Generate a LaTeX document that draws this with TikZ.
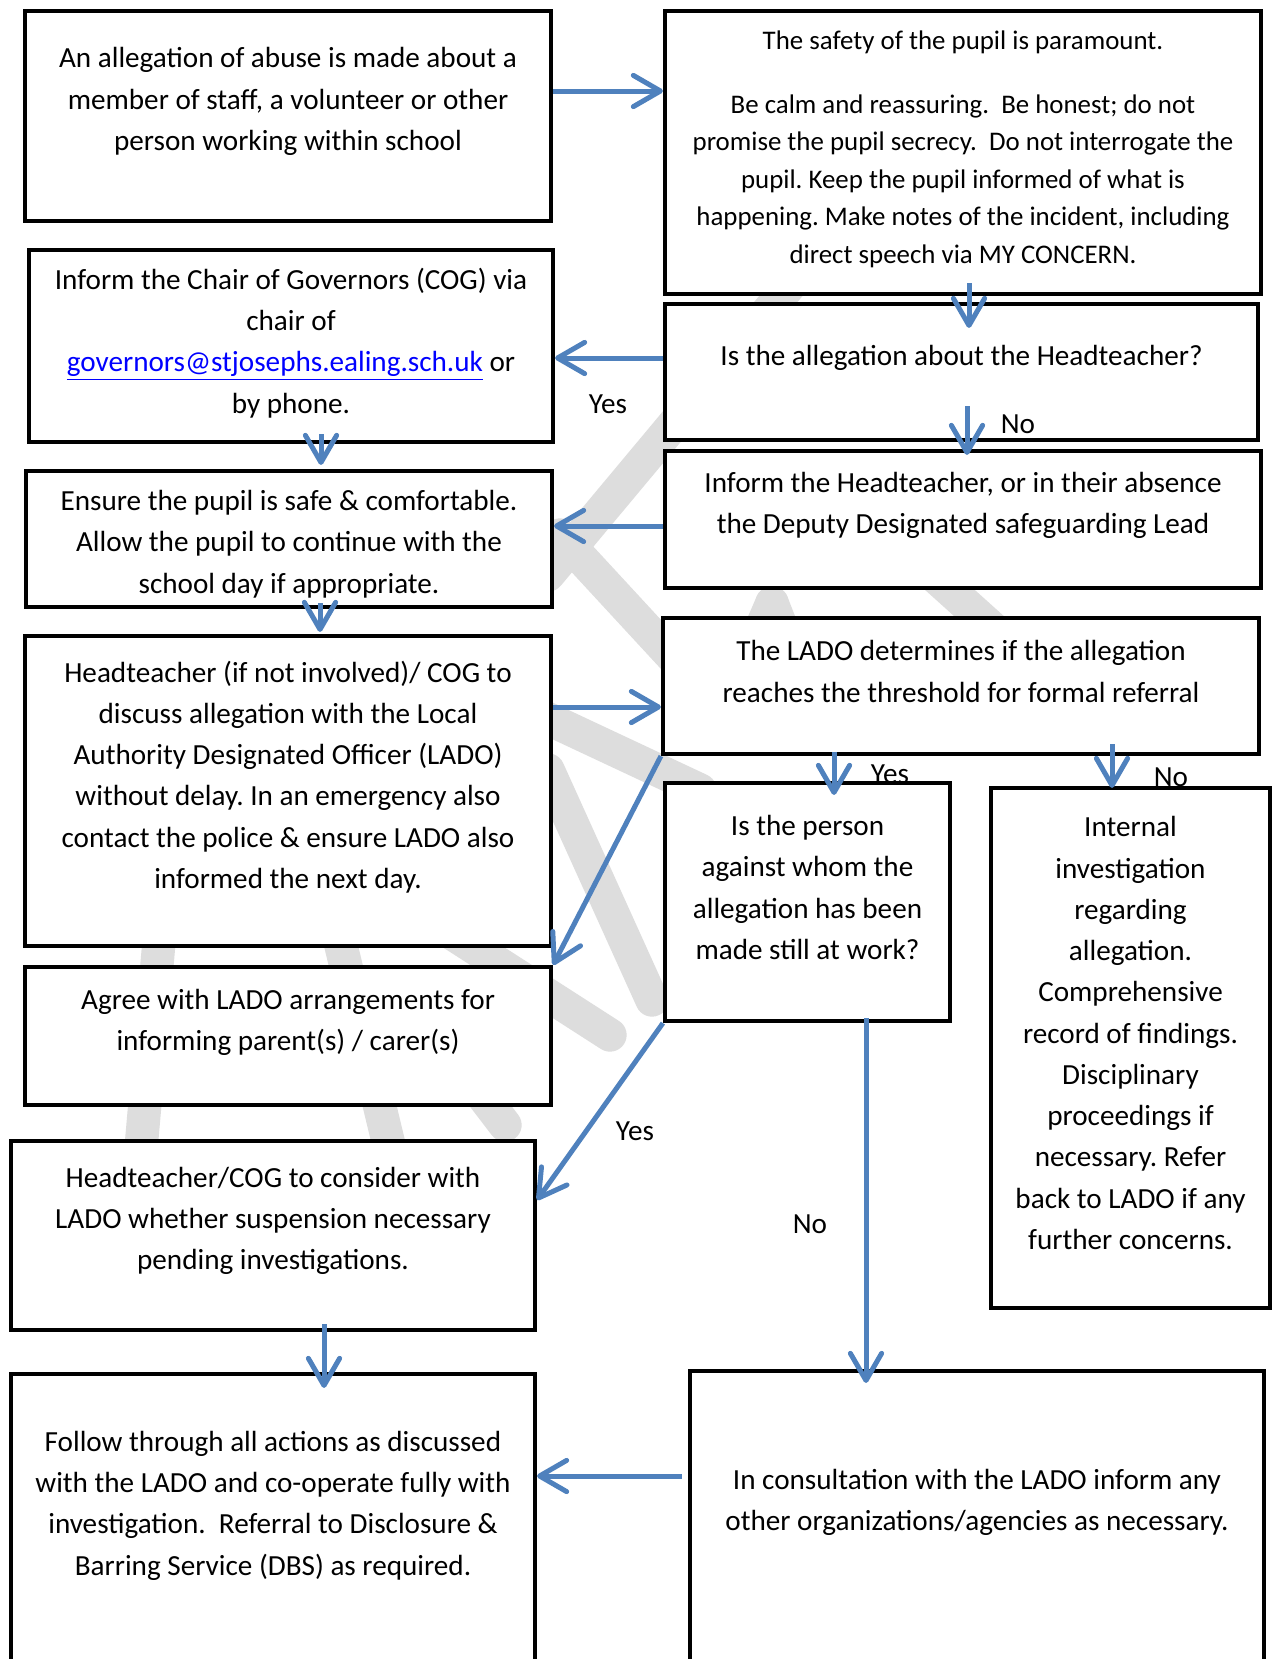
\documentclass[tikz,border=0pt]{standalone}
\usepackage{fontspec}
\setmainfont{Carlito}
\frenchspacing
\usetikzlibrary{arrows.meta,fit,calc}
\definecolor{arrowblue}{HTML}{4F81BD}
\definecolor{wmgray}{HTML}{DDDDDD}
\definecolor{linkblue}{HTML}{0000FF}
\begin{document}
\begin{tikzpicture}[x=0.48pt,y=-0.48pt,
  box/.style={draw=black, line width=2pt, fill=white, inner sep=0pt},
  txt/.style={align=center, inner sep=0pt, font=\fontsize{14}{19.8}\selectfont},
  atxt/.style={align=center, inner sep=0pt, font=\fontsize{14}{19.9}\selectfont},
  btxt/.style={align=center, inner sep=0pt, font=\fontsize{12.9}{18}\selectfont},
  lbl/.style={inner sep=0pt, font=\fontsize{14}{17}\selectfont},
  flow/.style={draw=arrowblue, line width=2.4pt, -{Straight Barb[length=13pt,width=15pt,round]}},
  wm/.style={draw=wmgray, line width=16pt, line cap=round}]
\useasboundingbox (0,0) rectangle (1275,1659);
\clip (0,0) rectangle (1275,1659);
\fill[white] (0,0) rectangle (1275,1659);

% faint watermark
\draw[wm] (790,285) -- (548,575);
\draw[wm] (560,535) -- (740,730);
\draw[wm] (772,603) -- (730,700);
\draw[wm] (772,603) -- (810,700);
\draw[wm] (900,545) -- (1010,644);
\draw[wm] (540,715) -- (700,790);
\draw[wm] (548,770) -- (652,1000);
\draw[wm] (400,900) -- (610,1035);
\draw[wm] (160,930) -- (140,1160);
\draw[wm] (330,900) -- (395,1170);
\draw[wm] (440,1040) -- (505,1125);

% labels partly covered by boxes
\node[lbl] (yesI) at (890,774) {Yes};
\node[lbl] (noJ) at (1171,777) {No};

% boxes
\node[box, fit={(25,11)(551,221)}] (A) {};
\node[box, fit={(665,11)(1261,294)}] (B) {};
\node[box, fit={(29,250)(553,442)}] (C) {};
\node[box, fit={(665,304)(1258,440)}] (D) {};
\node[box, fit={(26,471)(552,607)}] (E) {};
\node[box, fit={(665,451)(1261,588)}] (F) {};
\node[box, fit={(25,636)(551,946)}] (G) {};
\node[box, fit={(663,618)(1259,754)}] (H) {};
\node[box, fit={(665,783)(950,1021)}] (I) {};
\node[box, fit={(991,788)(1270,1308)}] (J) {};
\node[box, fit={(25,967)(551,1105)}] (K) {};
\node[box, fit={(11,1141)(535,1330)}] (L) {};
\node[box, fit={(11,1374)(535,1720)}] (M) {};
\node[box, fit={(690,1371)(1264,1720)}] (N) {};

% texts
\node[atxt] (At) at (288,101.5) {An allegation of abuse is made about a\\ member of staff, a volunteer or other\\ person working within school};
\node[btxt] (Bt) at (963,149) {The safety of the pupil is paramount.\\[12.7pt] Be calm and reassuring.\ \ Be honest; do not\\ promise the pupil secrecy.\ \ Do not interrogate the\\ pupil. Keep the pupil informed of what is\\ happening. Make notes of the incident, including\\ direct speech via MY CONCERN.};
\node[txt] (Ct) at (291,343) {Inform the Chair of Governors (COG) via\\ chair of\\ {\color{linkblue}\underline{governors@stjosephs.ealing.sch.uk}} or\\ by phone.};
\node[txt] (Dt) at (961.5,358) {Is the allegation about the Headteacher?};
\node[txt] (Et) at (289,544) {Ensure the pupil is safe \& comfortable.\\ Allow the pupil to continue with the\\ school day if appropriate.};
\node[txt] (Ft) at (963,505.5) {Inform the Headteacher, or in their absence\\ the Deputy Designated safeguarding Lead};
\node[txt] (Gt) at (288,777) {Headteacher (if not involved)/ COG to\\ discuss allegation with the Local\\ Authority Designated Officer (LADO)\\ without delay. In an emergency also\\ contact the police \& ensure LADO also\\ informed the next day.};
\node[txt] (Ht) at (961,671.5) {The LADO determines if the allegation\\ reaches the threshold for formal referral};
\node[txt] (It) at (807.5,887.5) {Is the person\\ against whom the\\ allegation has been\\ made still at work?};
\node[txt] (Jt) at (1130.5,1033) {Internal\\ investigation\\ regarding\\ allegation.\\ Comprehensive\\ record of findings.\\ Disciplinary\\ proceedings if\\ necessary. Refer\\ back to LADO if any\\ further concerns.};
\node[txt] (Kt) at (288,1022.5) {Agree with LADO arrangements for\\ informing parent(s) / carer(s)};
\node[txt] (Lt) at (273,1221) {Headteacher/COG to consider with\\ LADO whether suspension necessary\\ pending investigations.};
\node[txt] (Mt) at (273,1505.5) {Follow through all actions as discussed\\ with the LADO and co-operate fully with\\ investigation.\ \ Referral to Disclosure \&\\ Barring Service (DBS) as required.};
\node[txt] (Nt) at (977,1502.5) {In consultation with the LADO inform any\\ other organizations/agencies as necessary.};

% connectors
\draw[flow] (A.east |- 0,91) -- (B.west |- 0,91);
\draw[flow] ($(B.south -| 969,0)+(0,-13)$) -- ($(D.north -| 969,0)+(0,26)$);
\draw[flow] (D.west |- 0,358) -- (C.east |- 0,358);
\draw[flow] ($(D.south -| 967,0)+(0,-36)$) -- ($(F.north -| 967,0)+(0,6)$);
\draw[flow] ($(C.south -| 321,0)+(0,-10)$) -- ($(E.north -| 321,0)+(0,-4)$);
\draw[flow] (F.west |- 0,526) -- (E.east |- 0,526);
\draw[flow] ($(E.south -| 320,0)+(0,-6)$) -- ($(G.north -| 320,0)+(0,-2)$);
\draw[flow] (G.east |- 0,707) -- (H.west |- 0,707);
\draw[flow] (H.south west) -- (K.north east);
\draw[flow] ($(H.south -| 834,0)+(0,-4)$) -- ($(I.north -| 834,0)+(0,14)$);
\draw[flow] ($(H.south -| 1112,0)+(0,-12)$) -- ($(J.north -| 1112,0)+(0,2)$);
\draw[flow] (I.south west) -- (L.east |- 0,1200);
\draw[flow] ($(I.south -| 866,0)+(0,-5)$) -- ($(N.north -| 866,0)+(0,14)$);
\draw[flow] ($(L.south -| 324,0)+(0,-8)$) -- ($(M.north -| 324,0)+(0,16)$);
\draw[flow] ($(N.west |- 0,1476)+(-6,0)$) -- (M.east |- 0,1476);

% remaining labels
\node[lbl] (yesC) at (608,404) {Yes};
\node[lbl] (noF) at (1018,424) {No};
\node[lbl] (yesL) at (635,1131) {Yes};
\node[lbl] (noN) at (810,1224) {No};
\end{tikzpicture}
\end{document}
